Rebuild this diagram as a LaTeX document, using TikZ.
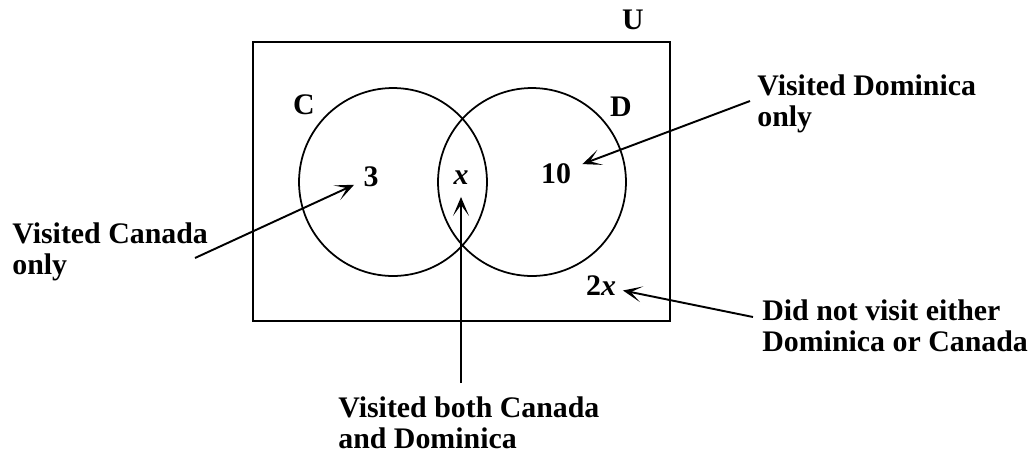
\documentclass[tikz,border=0pt]{standalone}
\usepackage{fontspec}
\setmainfont{Liberation Serif}
\usetikzlibrary{arrows.meta,positioning}

\begin{document}
\begin{tikzpicture}[
            x=0.02cm, y=-0.02cm,
            font=\fontsize{17}{18}\selectfont\bfseries,
            setcircle/.style={circle, draw, line width=1pt, minimum size=3.76cm, inner sep=0pt},
            region/.style={inner sep=1pt},
            note/.style={align=left, inner sep=0pt, anchor=north west},
            arrow/.style={line width=1.1pt, -{Stealth[length=0.38cm, width=0.32cm, inset=0.22cm]}}
        ]
        \useasboundingbox (0,0) rectangle (1036,454);

        % Universo e insiemi
        \draw[line width=1.2pt] (253,42) rectangle (670,321);
        \node (C) [setcircle] at (393,182) {};
        \node (D) [setcircle] at (532,182) {};

        % Etichette
        \node (lblU) at (633,20) {U};
        \node (lblC) at (304,105) {C};
        \node (lblD) at (621,107) {D};

        % Regioni
        \node (three) [region] at (371,177) {3};
        \node (both) [region] at (461,178) {\textit{x}};
        \node (ten) [region] at (556,174) {10};
        \node (none) [region] at (601,286) {2\textit{x}};

        % Note
        \node (canada) [note] at (12,222) {Visited Canada\\only};
        \node (dominica) [note] at (757,74) {Visited Dominica\\only};
        \node (bothtxt) [note] at (338,396) {Visited both Canada\\and Dominica};
        \node (neither) [note] at (762,299) {Did not visit either\\Dominica or Canada};

        \coordinate (canadaTail) at (195,258);
        \coordinate (dominicaTail) at (750,101);
        \coordinate (bothTail) at (461,383);
        \coordinate (neitherTail) at (753,317);

        % Frecce
        \draw [arrow, shorten >=0.16cm] (canadaTail) -- (three);
        \draw [arrow, shorten >=0.2cm] (dominicaTail) -- (ten);
        \draw [arrow, shorten >=0.2cm] (bothTail) -- (both);
        \draw [arrow, shorten >=0.1cm] (neitherTail) -- (none);

    \end{tikzpicture}
\end{document}
